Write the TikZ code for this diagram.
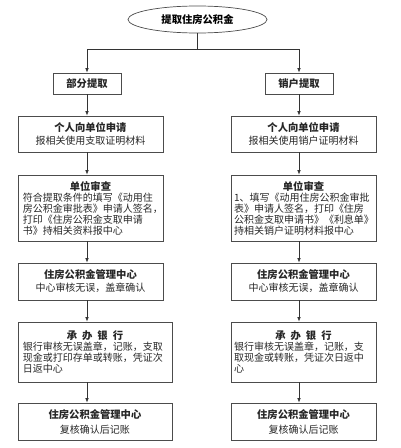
\documentclass[tikz,border=0pt]{standalone}
\usepackage{fontspec}
\setmainfont{Noto Sans CJK SC}
\usetikzlibrary{shapes.geometric,arrows.meta}
\tikzset{
  box/.style={draw=black!70, line width=0.7pt, rectangle, inner sep=0pt, font=\fontsize{10}{11}\selectfont, text=black!85},
  head/.style={box, minimum width=68pt, minimum height=21pt, font=\fontsize{10.3}{12}\selectfont\bfseries},
  arr/.style={draw=black!80, line width=0.7pt, -{Latex[length=4.5pt,width=3.5pt]}},
  ln/.style={draw=black!80, line width=0.7pt}
}
\newcommand{\hd}[1]{{\fontsize{10.3}{12}\selectfont\bfseries #1}}
\begin{document}
\begin{tikzpicture}[x=1pt,y=1pt]
\useasboundingbox (0,0) rectangle (400,448);
% top ellipse
\node[draw=black!70, line width=0.7pt, ellipse, minimum width=139pt, minimum height=27pt, inner sep=0pt, font=\fontsize{10.3}{12}\selectfont\bfseries] (top) at (197.5,428.5) {提取住房公积金};
\coordinate (split) at (197.5,399);
% branch boxes
\node[head] (L0) at (87,364.5) {部分提取};
\node[head] (R0) at (299,364.5) {销户提取};
% left column
\node[box, minimum width=145pt, minimum height=36pt, text width=137pt, align=center] (L1) at (90.5,314)
  {\hd{个人向单位申请}\\[2pt]报相关使用支取证明材料};
\node[box, minimum width=145pt, minimum height=66pt, text width=135pt] (L2) at (90.5,240)
  {{\centering\hd{单位审查}\par}\raggedright 符合提取条件的填写《动用住\\房公积金审批表》申请人签名，\\打印《住房公积金支取申请\\书》持相关资料报中心};
\node[box, minimum width=145pt, minimum height=37pt, text width=137pt, align=center] (L3) at (90.5,166.5)
  {\hd{住房公积金管理中心}\\[2pt]中心审核无误，盖章确认};
\node[box, minimum width=154pt, minimum height=60pt, text width=144pt] (L4) at (95,96)
  {{\centering\hd{承\hspace{5pt}办\hspace{5pt}银\hspace{5pt}行}\par}\raggedright 银行审核无误盖章，记账，支取\\现金或打印存单或转账，凭证次\\日返中心};
\node[box, minimum width=154pt, minimum height=37pt, text width=144pt, align=center] (L5) at (95,26.5)
  {\hd{住房公积金管理中心}\\[4pt]复核确认后记账};
% right column
\node[box, minimum width=145pt, minimum height=36pt, text width=137pt, align=center] (R1) at (303.5,314)
  {\hd{个人向单位申请}\\[2pt]报相关使用销户证明材料};
\node[box, minimum width=145pt, minimum height=66pt, text width=139pt] (R2) at (303.5,240)
  {{\centering\hd{单位审查}\par}\raggedright 1、填写《动用住房公积金审批\\表》申请人签名，打印《住房\\公积金支取申请书》《利息单》\\持相关销户证明材料报中心};
\node[box, minimum width=145pt, minimum height=37pt, text width=137pt, align=center] (R3) at (303.5,166.5)
  {\hd{住房公积金管理中心}\\[2pt]中心审核无误，盖章确认};
\node[box, minimum width=145pt, minimum height=60pt, text width=139pt] (R4) at (303.5,96)
  {{\centering\hd{承\hspace{5pt}办\hspace{5pt}银\hspace{5pt}行}\par}\raggedright 银行审核无误盖章，记账，支\\取现金或转账，凭证次日返中\\心};
\node[box, minimum width=145pt, minimum height=37pt, text width=137pt, align=center] (R5) at (303.5,26.5)
  {\hd{住房公积金管理中心}\\[4pt]复核确认后记账};
% connectors
\draw[ln] (top.south) -- (split);
\draw[arr] (split) -| (L0.north);
\draw[arr] (split) -| (R0.north);
\draw[arr] (L0.south) -- (L0.south |- L1.north);
\draw[arr] (L0.south |- L1.south) -- (L0.south |- L2.north);
\draw[arr] (L0.south |- L2.south) -- (L0.south |- L3.north);
\draw[arr] (L0.south |- L3.south) -- (L0.south |- L4.north);
\draw[arr] (L0.south |- L4.south) -- (L0.south |- L5.north);
\draw[arr] (R0.south) -- (R0.south |- R1.north);
\draw[arr] (R0.south |- R1.south) -- (R0.south |- R2.north);
\draw[arr] (R0.south |- R2.south) -- (R0.south |- R3.north);
\draw[arr] (R0.south |- R3.south) -- (R0.south |- R4.north);
\draw[arr] (R0.south |- R4.south) -- (R0.south |- R5.north);
\end{tikzpicture}
\end{document}
